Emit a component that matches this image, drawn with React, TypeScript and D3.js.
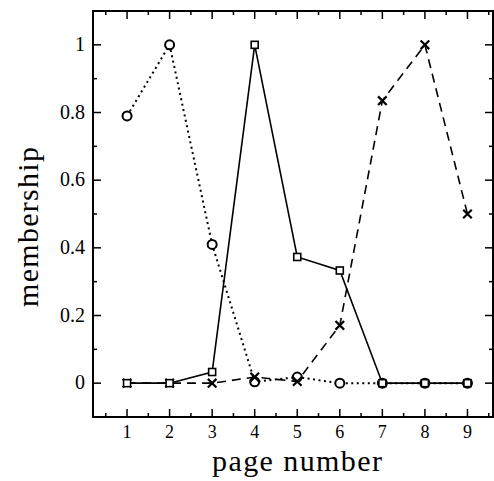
import React, { useEffect, useRef } from 'react';
import * as d3 from 'd3';

const pages = [1, 2, 3, 4, 5, 6, 7, 8, 9];
const circleSeries = [0.79, 1.0, 0.41, 0.004, 0.018, 0.0, 0.0, 0.0, 0.0];
const squareSeries = [0.0, 0.0, 0.033, 1.0, 0.373, 0.333, 0.0, 0.0, 0.0];
const crossSeries = [0.0, 0.0, 0.0, 0.018, 0.005, 0.171, 0.835, 1.0, 0.5];
const yTicks = [0, 0.2, 0.4, 0.6, 0.8, 1];
const yTickLabels = ['0', '0.2', '0.4', '0.6', '0.8', '1'];
const yMinorTicks = [0.1, 0.3, 0.5, 0.7, 0.9];
const xMinorTicks = [0.5, 1.5, 2.5, 3.5, 4.5, 5.5, 6.5, 7.5, 8.5, 9.5];

const width = 494;
const height = 481;
const margin = { left: 93, right: 1, top: 11, bottom: 64 };
const font = '"Liberation Serif", "Times New Roman", serif';

export default function App() {
  const svgRef = useRef<SVGSVGElement>(null);

  useEffect(() => {
    if (!svgRef.current) return;
    const svg = d3.select(svgRef.current);
    svg.selectAll('*').remove();

    const x = d3.scaleLinear().domain([0.2, 9.6]).range([margin.left, width - margin.right]);
    const y = d3.scaleLinear().domain([-0.1, 1.1]).range([height - margin.bottom, margin.top]);
    const [x0, x1] = x.range();
    const [y0, y1] = y.range();

    // ticks on all four sides, pointing inward
    const ticks = svg.append('g').attr('stroke', '#000').attr('stroke-width', 1.5);
    const addX = (v: number, len: number) => {
      ticks.append('line').attr('x1', x(v)).attr('x2', x(v)).attr('y1', y0).attr('y2', y0 - len);
      ticks.append('line').attr('x1', x(v)).attr('x2', x(v)).attr('y1', y1).attr('y2', y1 + len);
    };
    const addY = (v: number, len: number) => {
      ticks.append('line').attr('x1', x0).attr('x2', x0 + len).attr('y1', y(v)).attr('y2', y(v));
      ticks.append('line').attr('x1', x1).attr('x2', x1 - len).attr('y1', y(v)).attr('y2', y(v));
    };
    pages.forEach(v => addX(v, 8));
    xMinorTicks.forEach(v => addX(v, 4));
    yTicks.forEach(v => addY(v, 8));
    yMinorTicks.forEach(v => addY(v, 4));

    // frame
    svg.append('rect')
      .attr('x', x0).attr('y', y1)
      .attr('width', x1 - x0).attr('height', y0 - y1)
      .attr('fill', 'none').attr('stroke', '#000').attr('stroke-width', 2);

    // tick labels
    svg.append('g').selectAll('text').data(pages).enter().append('text')
      .attr('x', d => x(d)).attr('y', y0 + 21)
      .attr('text-anchor', 'middle')
      .style('font-family', font).style('font-size', '18px')
      .text(d => String(d));

    svg.append('g').selectAll('text').data(yTicks).enter().append('text')
      .attr('x', x0 - 8).attr('y', d => y(d) + 6)
      .attr('text-anchor', 'end')
      .style('font-family', font).style('font-size', '20px')
      .text((d, i) => yTickLabels[i]);

    // axis titles
    svg.append('text')
      .attr('x', 297).attr('y', 471)
      .attr('text-anchor', 'middle')
      .attr('textLength', 170).attr('lengthAdjust', 'spacing')
      .style('font-family', font).style('font-size', '30px')
      .text('page number');

    svg.append('text')
      .attr('transform', 'rotate(-90)')
      .attr('x', -227).attr('y', 38)
      .attr('text-anchor', 'middle')
      .attr('textLength', 160).attr('lengthAdjust', 'spacing')
      .style('font-family', font).style('font-size', '30px')
      .text('membership');

    const line = d3.line<number>().x((d, i) => x(pages[i])).y(d => y(d));

    // lines
    svg.append('path').datum(crossSeries).attr('d', line)
      .attr('fill', 'none').attr('stroke', '#000').attr('stroke-width', 1.6)
      .attr('stroke-dasharray', '9,6');
    svg.append('path').datum(circleSeries).attr('d', line)
      .attr('fill', 'none').attr('stroke', '#000').attr('stroke-width', 2)
      .attr('stroke-dasharray', '2,3.5');
    svg.append('path').datum(squareSeries).attr('d', line)
      .attr('fill', 'none').attr('stroke', '#000').attr('stroke-width', 1.6);

    // markers: circles, then crosses, squares on top
    svg.append('g').selectAll('circle').data(circleSeries).enter().append('circle')
      .attr('cx', (d, i) => x(pages[i])).attr('cy', d => y(d)).attr('r', 4.5)
      .attr('fill', '#fff').attr('stroke', '#000').attr('stroke-width', 2);

    const cross = d3.symbol(d3.symbolX, 50);
    svg.append('g').selectAll('path').data(crossSeries).enter().append('path')
      .attr('d', cross)
      .attr('transform', (d, i) => `translate(${x(pages[i])},${y(d)})`)
      .attr('fill', 'none').attr('stroke', '#000').attr('stroke-width', 2.2);

    svg.append('g').selectAll('rect').data(squareSeries).enter().append('rect')
      .attr('x', (d, i) => x(pages[i]) - 3.5).attr('y', d => y(d) - 3.5)
      .attr('width', 7).attr('height', 7)
      .attr('fill', '#fff').attr('stroke', '#000').attr('stroke-width', 1.6);
  }, []);

  return (
    <svg
      ref={svgRef}
      width={width}
      height={height}
      style={{ position: 'absolute', left: 0, top: 0, background: '#fff' }}
    />
  );
}
